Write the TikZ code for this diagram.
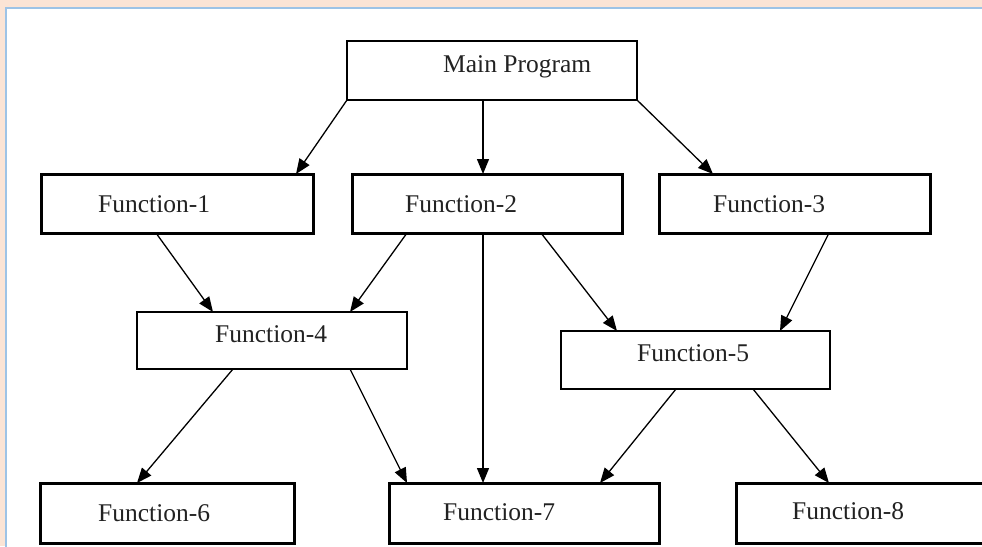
\documentclass[tikz,border=0pt]{standalone}
\usepackage{fontspec}
\setmainfont{Liberation Serif}
\usetikzlibrary{arrows.meta}
\definecolor{peach}{HTML}{FBE4D5}
\definecolor{frameblue}{HTML}{9DC3E6}
\definecolor{inkgray}{HTML}{222222}
\tikzset{
  boxbase/.style={draw=black, anchor=north west, inner sep=0pt, outer sep=0pt,
    minimum width=#1, minimum height=59pt},
  thinbox/.style={boxbase=#1, line width=1.4pt},
  thickbox/.style={boxbase=#1, line width=3pt},
  lbl/.style={anchor=base west, inner sep=0pt, text=inkgray,
    font=\fontsize{25.5}{30}\selectfont},
  arr/.style={line width=1.3pt, -{Triangle[length=15pt,width=12pt]}}
}
\begin{document}
\begin{tikzpicture}[x=1pt,y=-1pt]
\useasboundingbox (0,0) rectangle (982,546);
\clip (0,0) rectangle (982,546);
\fill[peach] (0,0) rectangle (982,546);
\fill[white] (6,8) rectangle (990,550);
\draw[frameblue, line width=2pt] (6,550) -- (6,8) -- (990,8);

% boxes
\node[thinbox=290pt] (main) at (347,41) {};
\node[thickbox=272pt] (f1) at (41,174) {};
\node[thickbox=270pt] (f2) at (352,174) {};
\node[thickbox=271pt] (f3) at (659,174) {};
\node[thinbox=270pt, minimum height=57pt] (f4) at (137,312) {};
\node[thinbox=269pt, minimum height=58pt] (f5) at (561,331) {};
\node[thickbox=254pt, minimum height=60pt] (f6) at (40,483) {};
\node[thickbox=270pt, minimum height=60pt] (f7) at (389,483) {};
\node[thickbox=290pt, minimum height=60pt] (f8) at (736,483) {};

% labels
\node[lbl] (tmain) at (443,72) {Main Program};
\node[lbl] (t1) at (98,212) {Function-1};
\node[lbl] (t2) at (405,212) {Function-2};
\node[lbl] (t3) at (713,212) {Function-3};
\node[lbl] (t4) at (215,342) {Function-4};
\node[lbl] (t5) at (637,361) {Function-5};
\node[lbl] (t6) at (98,521) {Function-6};
\node[lbl] (t7) at (443,520) {Function-7};
\node[lbl] (t8) at (792,519) {Function-8};

% connectors
\draw[arr] (main.south west) -- ([xshift=-17pt]f1.north east);
\draw[arr] ([xshift=136pt]main.south west) -- ([xshift=131pt]f2.north west);
\draw[arr] (main.south east) -- ([xshift=54pt]f3.north west);
\draw[arr] ([xshift=115pt]f1.south west) -- ([xshift=76pt]f4.north west);
\draw[arr] ([xshift=55pt]f2.south west) -- ([xshift=-57pt]f4.north east);
\draw[arr] ([xshift=131pt]f2.south west) -- ([xshift=94pt]f7.north west);
\draw[arr] ([xshift=189pt]f2.south west) -- ([xshift=56pt]f5.north west);
\draw[arr] ([xshift=170pt]f3.south west) -- ([xshift=-50pt]f5.north east);
\draw[arr] ([xshift=96pt]f4.south west) -- ([xshift=97pt]f6.north west);
\draw[arr] ([xshift=-57pt]f4.south east) -- ([xshift=18pt]f7.north west);
\draw[arr] ([xshift=115pt]f5.south west) -- ([xshift=-59pt]f7.north east);
\draw[arr] ([xshift=192pt]f5.south west) -- ([xshift=93pt]f8.north west);
\end{tikzpicture}
\end{document}
